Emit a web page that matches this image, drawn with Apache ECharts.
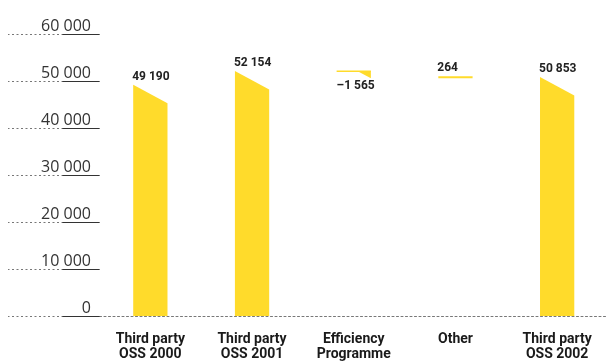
<!DOCTYPE html>
<html>
<head>
<meta charset="utf-8">
<script src="https://cdn.jsdelivr.net/npm/echarts@6/dist/echarts.min.js"></script>
<style>html,body{margin:0;padding:0;background:#fff}#c{width:608px;height:362px}</style>
</head>
<body>
<div id="c"></div>
<script>
var categories = ['Third party\nOSS 2000', 'Third party\nOSS 2001', 'Efficiency\nProgramme', 'Other', 'Third party\nOSS 2002'];
var values = [49190, 52154, -1565, 264, 50853];
var kinds = ['total', 'total', 'delta', 'delta', 'total'];
var yTicks = [0, 10000, 20000, 30000, 40000, 50000, 60000];

function fmt(v) {
  var s = String(Math.abs(v)).replace(/\B(?=(\d{3})+(?!\d))/g, ' ');
  return (v < 0 ? '\u2013' : '') + s;
}

var items = (function () {
  var running = 0, out = [];
  for (var i = 0; i < values.length; i++) {
    var lo, hi;
    if (kinds[i] === 'total') { lo = 0; hi = values[i]; running = values[i]; }
    else { lo = running; hi = running + values[i]; running = hi; }
    out.push([i, lo, hi, values[i], kinds[i] === 'total' ? 1 : 0]);
  }
  return out;
})();

var YELLOW = '#FFDB2B';
var SLANT = 18.5;

function renderItem(params, api) {
  var idx = api.value(0), b = api.value(1), t = api.value(2), val = api.value(3), total = api.value(4);
  var cx = api.coord([idx, 0])[0];
  var w = api.size([1, 0])[0] * 0.337;
  var x0 = cx - w / 2, x1 = cx + w / 2;
  var yB = api.coord([idx, b])[1];
  var yT = api.coord([idx, t])[1];
  var children = [];
  var labelStyle = { fill: '#222', font: 'bold 12px Roboto, sans-serif', align: 'left', text: fmt(val) };
  if (total || val >= 0) {
    var h = yB - yT;
    if (h >= SLANT) {
      children.push({ type: 'polygon', shape: { points: [[x0, yT], [x1, yT + SLANT], [x1, yB], [x0, yB]] }, style: { fill: YELLOW } });
    } else {
      var hh = Math.max(h, 2);
      children.push({ type: 'rect', shape: { x: x0, y: yB - hh, width: w, height: hh }, style: { fill: YELLOW } });
      yT = yB - hh;
    }
    children.push({ type: 'text', x: x0 - 1, y: yT - 2, style: Object.assign({}, labelStyle, { verticalAlign: 'bottom' }) });
  } else {
    var yHi = yB, yLo = yT;
    var hn = yLo - yHi;
    children.push({ type: 'rect', shape: { x: x0, y: yHi - 0.5, width: w, height: 1.6 }, style: { fill: YELLOW } });
    children.push({ type: 'polygon', shape: { points: [[x1 - hn * (w / SLANT), yHi], [x1, yHi], [x1, yLo]] }, style: { fill: YELLOW } });
    children.push({ type: 'text', x: x0, y: yLo + 2, style: Object.assign({}, labelStyle, { verticalAlign: 'top' }) });
  }
  return { type: 'group', children: children };
}

var chart = echarts.init(document.getElementById('c'));
chart.setOption({
  animation: false,
  grid: { left: 99.5, top: 34, width: 520, bottom: 40, containLabel: false },
  xAxis: {
    type: 'category',
    data: categories,
    axisLine: { show: true, lineStyle: { color: '#777', width: 1, type: [2, 2.5] } },
    axisTick: { show: false },
    axisLabel: { interval: 0, margin: 16, color: '#1a1a1a', fontFamily: 'Roboto, sans-serif', fontWeight: 'bold', fontSize: 14, lineHeight: 15 }
  },
  yAxis: [{
    type: 'value', min: 0, max: 60000, interval: 10000, z: 3,
    axisLine: { show: false },
    axisTick: { show: true, length: 37, lineStyle: { color: '#333', width: 1 } },
    splitLine: { show: false },
    axisLabel: {
      margin: 8.5, color: '#333', fontFamily: '"Open Sans", sans-serif', fontSize: 16, verticalAlign: 'bottom',
      formatter: function (v) { return fmt(v); }
    }
  }, {
    type: 'value', min: 0, max: 60000, interval: 10000, z: 2, position: 'left', offset: 0,
    axisLine: { show: false },
    axisTick: { show: true, length: 91.5, lineStyle: { color: '#777', width: 1, type: [2, 2.5] } },
    splitLine: { show: false },
    axisLabel: { show: false }
  }],
  series: [{
    type: 'custom',
    renderItem: renderItem,
    clip: false,
    encode: { x: 0, y: [1, 2] },
    data: items
  }]
});
</script>
</body>
</html>
